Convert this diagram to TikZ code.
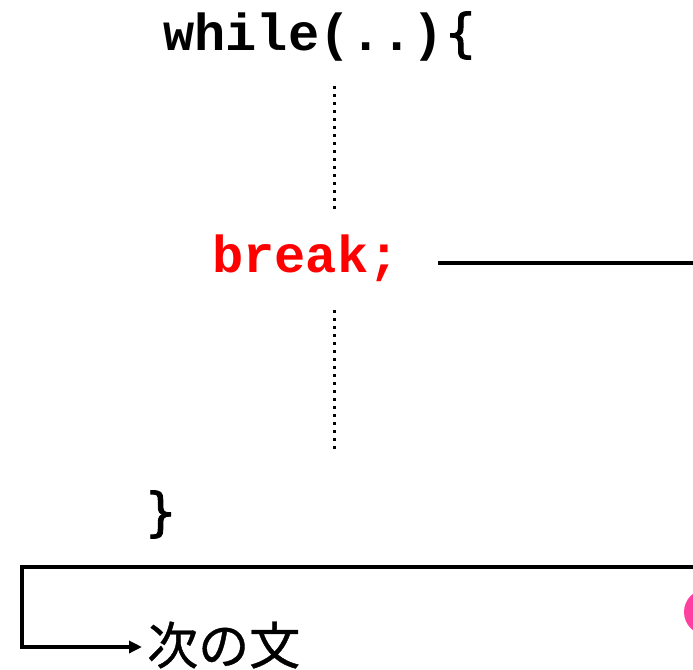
\documentclass[tikz,border=0pt]{standalone}
\usepackage{fontspec}
\setmonofont{Liberation Mono}
\newfontfamily\cjkfont[FakeBold=0.8]{Noto Sans CJK JP}
\newfontfamily\bracefont[FakeBold=1.6]{DejaVu Sans}
\usetikzlibrary{arrows.meta}
\definecolor{breakred}{RGB}{255,0,0}
\definecolor{dotpink}{RGB}{255,64,160}
\tikzset{
  code/.style={inner sep=0pt, anchor=base west, font=\fontsize{52}{62}\selectfont\ttfamily\bfseries},
  dotline/.style={line width=3pt, line cap=butt, dash pattern=on 3pt off 5pt},
  flow/.style={line width=3.6pt},
}
\begin{document}
\begin{tikzpicture}[x=1pt,y=-1pt]
  \useasboundingbox (0,0) rectangle (693,669);
  \begin{scope}
    \clip (0,0) rectangle (693,669);
    % loop header and closing brace
    \node[code] (head) at (163,51) {while(..){\bracefont\mdseries\{}};
    \node[code, text=breakred] (brk) at (212,272) {break;};
    \node[code] (close) at (144,530) {{\bracefont\mdseries\}}};
    % elided statements
    \coordinate (d1a) at (334,86);
    \coordinate (d1b) at (334,209);
    \coordinate (d2a) at (334,310);
    \coordinate (d2b) at (334,449);
    \draw[dotline] (d1a) -- (d1b);
    \draw[dotline] (d2a) -- (d2b);
    % jump out of the loop
    \coordinate (j0) at (438,263);
    \coordinate (j1) at (700,263);
    \draw[flow] (j0) -- (j1);
    \coordinate (r0) at (700,567);
    \coordinate (r1) at (22,567);
    \coordinate (r2) at (22,647);
    \node[inner sep=0pt, anchor=west, font=\fontsize{51}{60}\selectfont\cjkfont] (next) at (147,645) {次の文};
    \draw[flow, line join=miter, -{Triangle[length=13pt,width=12pt]}, shorten >=5pt] (r0) -- (r1) -- (r2) -- (next.west |- r2);
    % marker
    \fill[dotpink] (707,612) circle (23);
  \end{scope}
\end{tikzpicture}
\end{document}
